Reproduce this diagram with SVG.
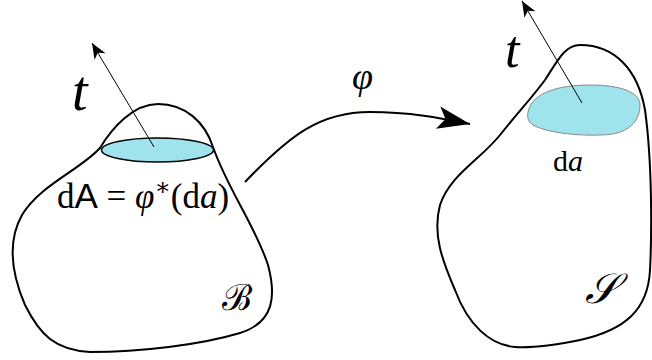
<svg xmlns="http://www.w3.org/2000/svg" width="652" height="360" viewBox="0 0 652 360">
<style>
.body{fill:none;stroke:#000;stroke-width:2}
.patch{fill:#9fe3ec}
.thin{fill:none;stroke:#000;stroke-width:1}
.lbl{font-family:"Liberation Serif","DejaVu Serif",serif;fill:#000}
.it{font-style:italic}
.sans{font-family:"Liberation Sans","DejaVu Sans",sans-serif}
</style>
<defs>
<marker id="ah" markerUnits="userSpaceOnUse" markerWidth="20" markerHeight="20" refX="0" refY="0" viewBox="-12 -6 14 12" orient="auto" overflow="visible">
<path d="M0,0 L-11,-4.5 L-8,0 L-11,4.5 Z" fill="#000"/>
</marker>
<marker id="big" markerUnits="userSpaceOnUse" markerWidth="40" markerHeight="40" refX="0" refY="0" viewBox="-30 -12 32 24" orient="auto" overflow="visible">
<path d="M0,0 L-26,-9 L-20,0 L-26,9 Z" fill="#000"/>
</marker>
</defs>
<g id="bodyB">
<path class="body" d="M100,148 C80,170 40,185 22,215 C8,240 10,270 25,305 C40,335 55,350 90,352 C140,352 200,345 240,333 C275,322 276,295 268,265 C255,225 228,190 213,147 C205,122 185,104 158,104 C133,104 112,128 100,148 Z"/>
<ellipse class="patch" cx="157.5" cy="150" rx="56" ry="12" stroke="#000" stroke-width="1.5"/>
<line class="thin" x1="154" y1="147" x2="92" y2="43" marker-end="url(#ah)"/>
<text class="lbl it" x="72" y="110" font-size="56">t</text>
<text class="lbl" x="57" y="208" font-size="35">d<tspan class="sans">A</tspan> = <tspan class="it">φ</tspan><tspan font-size="24" dy="-13">∗</tspan><tspan dy="13">(d</tspan><tspan class="it">a</tspan>)</text>
<text class="lbl" x="222" y="310" font-size="36">ℬ</text>
</g>
<g id="bodyS">
<path class="body" d="M580,45 C615,45 638,70 645,110 C652,160 652,230 650,270 C648,310 625,330 580,340 C555,345 530,348 515,347 C490,345 468,325 455,290 C443,262 432,235 440,205 C450,175 480,160 500,135 C520,110 530,100 545,80 C558,60 565,45 580,45 Z"/>
<path class="patch" stroke="#888" stroke-width="1" d="M528,112 C532,92 560,85 590,85 C620,85 640,92 640,105 C640,120 630,135 600,135 C575,136 545,132 533,125 C528,122 527,117 528,112 Z"/>
<line class="thin" x1="582" y1="103" x2="522" y2="1" marker-end="url(#ah)"/>
<text class="lbl it" x="505" y="67" font-size="52">t</text>
<text class="lbl" x="553" y="171" font-size="30">d<tspan class="it">a</tspan></text>
<text class="lbl it" x="585" y="303" font-size="42">𝒮</text>
</g>
<g id="connectors">
<path class="body" d="M245,182 C290,135 320,112 370,112 C410,112 440,118 470,124" marker-end="url(#big)"/>
<text class="lbl it" x="352" y="89" font-size="38">φ</text>
</g>
</svg>
